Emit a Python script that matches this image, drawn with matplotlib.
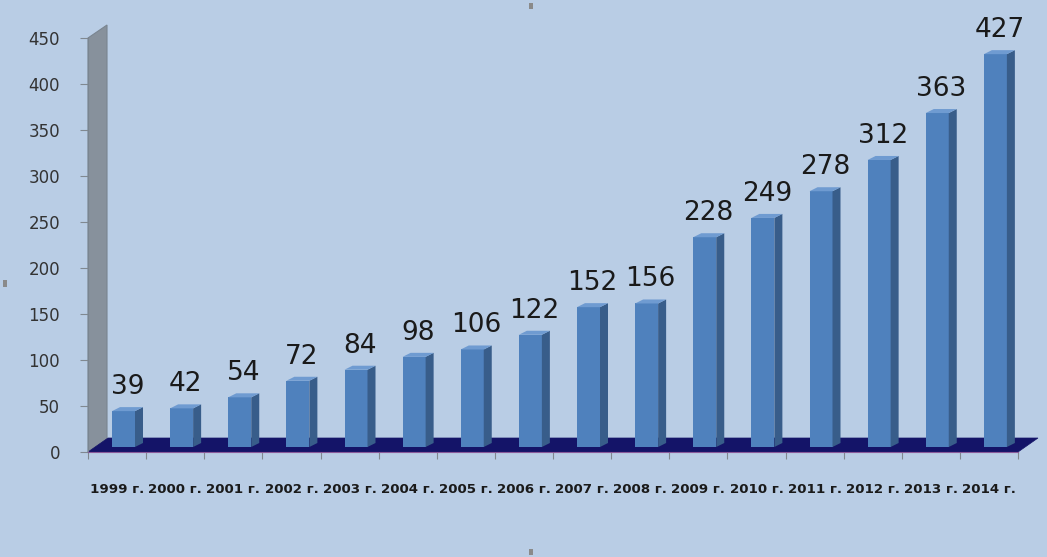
import matplotlib
matplotlib.use("Agg")
import matplotlib.pyplot as plt
from matplotlib.patches import Polygon, Rectangle

years = ["1999", "2000", "2001", "2002", "2003", "2004", "2005", "2006",
         "2007", "2008", "2009", "2010", "2011", "2012", "2013", "2014"]
values = [39, 42, 54, 72, 84, 98, 106, 122, 152, 156, 228, 249, 278, 312, 363, 427]
tick_labels = [y + " г." for y in years]
yticks = [0, 50, 100, 150, 200, 250, 300, 350, 400, 450]

W, H = 1047, 557
fig = plt.figure(figsize=(W / 100, H / 100), dpi=100)
bg = "#b9cde5"
fig.patch.set_facecolor(bg)

L, R, B, T = 88, 1018, 452, 38
ax = fig.add_axes([L / W, (H - B) / H, (R - L) / W, (B - T) / H])
ax.set_facecolor("none")
n = len(values)
ax.set_xlim(-0.5, n - 0.5)
ax.set_ylim(0, 450)

# pixel -> data unit conversion
ux = n / (R - L)
uy = 450 / (B - T)

# back wall (left)
dxw, dyw = 19 * ux, 13 * uy
wall = Polygon([(-0.5, 0), (-0.5, 450), (-0.5 + dxw, 450 + dyw), (-0.5 + dxw, dyw)],
               closed=True, facecolor="#87919c", edgecolor="#7a8590", lw=0.8,
               clip_on=False, zorder=1)
ax.add_patch(wall)

# floor
dxf, dyf = 20 * ux, 14 * uy
floor = Polygon([(-0.5, 0), (n - 0.5, 0), (n - 0.5 + dxf, dyf), (-0.5 + dxf, dyf)],
                closed=True, facecolor="#141468", edgecolor="#141468", lw=0.5,
                clip_on=False, zorder=2)
ax.add_patch(floor)

# bars with 3D look
off = 24 * ux
bw = 23 * ux
base = 5 * uy
ddx, ddy = 8 * ux, 4 * uy
front_c = "#4f81bd"
side_c = "#385d8a"
top_c = "#6f9bd1"
for i, v in enumerate(values):
    x0 = i - 0.5 + off
    top = base + v
    ax.add_patch(Rectangle((x0, base), bw, v, facecolor=front_c, edgecolor="none",
                           zorder=4, clip_on=False))
    ax.add_patch(Polygon([(x0 + bw, base), (x0 + bw + ddx, base + ddy),
                          (x0 + bw + ddx, top + ddy), (x0 + bw, top)], closed=True,
                         facecolor=side_c, edgecolor="none", zorder=4, clip_on=False))
    ax.add_patch(Polygon([(x0, top), (x0 + bw, top), (x0 + bw + ddx, top + ddy),
                          (x0 + ddx, top + ddy)], closed=True,
                         facecolor=top_c, edgecolor="none", zorder=4, clip_on=False))
    ax.text(x0 + bw / 2 + ddx / 2, top + 17 * uy, str(v), ha="center", va="baseline",
            fontsize=19, color="#1a1a1a", family="DejaVu Sans", zorder=5, clip_on=False)

# axes styling
for s in ["top", "right"]:
    ax.spines[s].set_visible(False)
ax.spines["left"].set_color("#7a8590")
ax.spines["bottom"].set_color("#8a5a9a")
ax.spines["bottom"].set_zorder(3)
ax.set_yticks(yticks)
ax.set_yticklabels([str(t) for t in yticks], fontsize=12, color="#333333",
                   family="DejaVu Sans")
ax.tick_params(axis="y", length=6, color="#808890", pad=14)
ax.set_xticks([i - 0.5 for i in range(n + 1)], minor=False)
ax.set_xticklabels([""] * (n + 1))
ax.set_xticks(range(n), minor=True)
ax.set_xticklabels(tick_labels, minor=True, fontsize=9.6, fontweight="bold",
                   color="#1a1a1a", family="DejaVu Sans")
ax.tick_params(axis="x", which="major", length=5, color="#808890")
ax.tick_params(axis="x", which="minor", length=0, pad=22)

# small grey handles at the frame edges
for (hx, hy, hw, hh) in [(529, 3, 4, 6), (3, 280, 4, 7), (529, 549, 4, 6)]:
    fig.patches.append(Rectangle((hx / W, 1 - (hy + hh) / H), hw / W, hh / H,
                                 transform=fig.transFigure, facecolor="#8a8a8a",
                                 edgecolor="none"))

fig.savefig("out.png", dpi=100, facecolor=bg)
